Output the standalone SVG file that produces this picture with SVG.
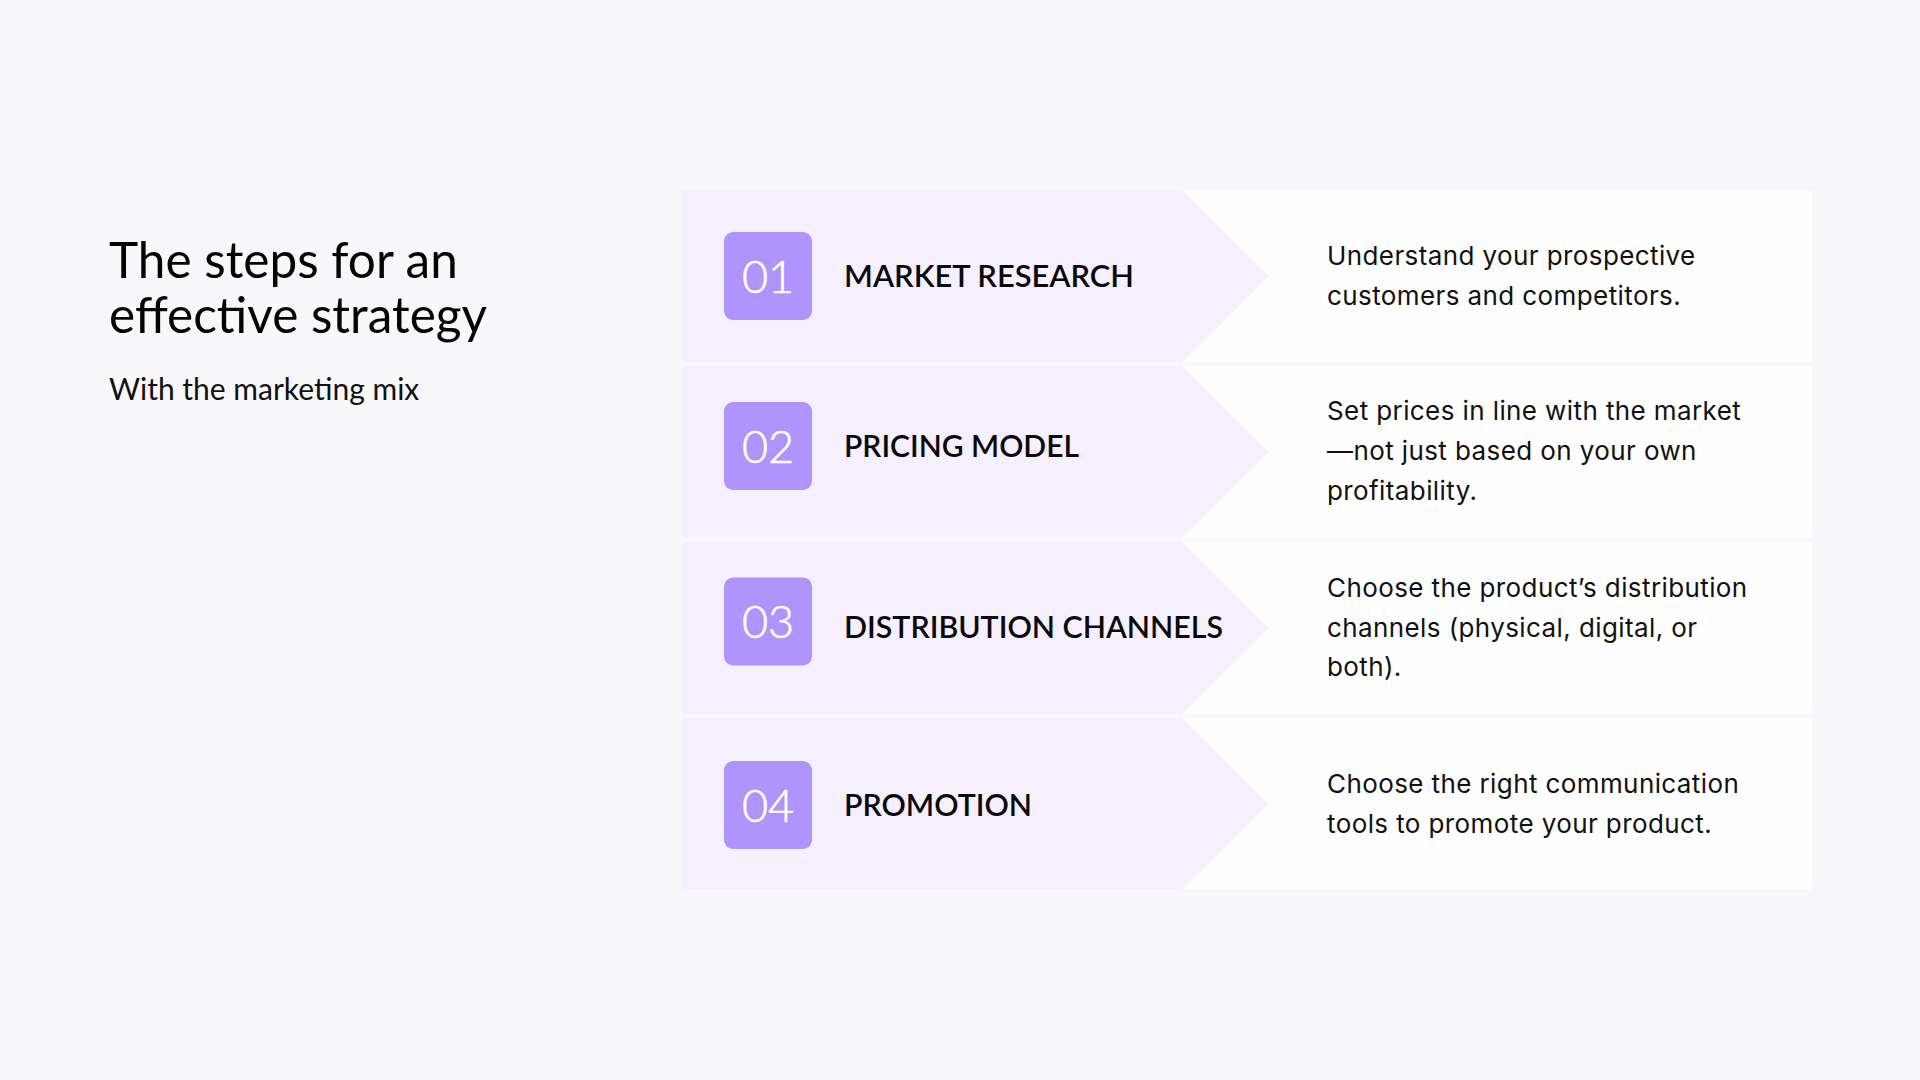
<svg xmlns="http://www.w3.org/2000/svg" width="1920" height="1080" viewBox="0 0 1920 1080">
<style>
.bg{fill:#f8f8fa}
.card{fill:#fefefe}
.chev{fill:#f5effe}
.box{fill:#b094fd}
.num{font-family:Lato,"Noto Sans",sans-serif;font-weight:300;font-size:45px;fill:#ffffff;text-anchor:middle}
.lbl{font-family:Lato,"Noto Sans",sans-serif;font-weight:600;font-size:30px;fill:#0a0a0a}
.desc{font-family:Inter,"Noto Sans",sans-serif;font-size:26px;letter-spacing:0.4px;fill:#111111}
.title{font-family:Lato,"Noto Sans",sans-serif;font-size:49.5px;fill:#050505}
.sub{font-family:Lato,"Noto Sans",sans-serif;font-size:30px;fill:#111111}
</style>
<rect class="bg" x="0" y="0" width="1920" height="1080"/>
<g id="heading">
<text class="title" x="109" y="278">The steps for an</text>
<text class="title" x="109" y="333">effective strategy</text>
<text class="sub" x="109" y="400">With the marketing mix</text>
</g>
<g id="connectors"></g>
<g id="step1">
<rect class="card" x="682" y="190" width="1130" height="172.5"/>
<polygon class="chev" points="682,190 1182,190 1269,276.2 1182,362.5 682,362.5"/>
<rect class="box" x="724" y="232" width="88" height="88" rx="9"/>
<text class="num" x="768" y="293" stroke="#ffffff" stroke-width="0.6">01</text>
<text class="lbl" x="844" y="287" textLength="290" lengthAdjust="spacingAndGlyphs">MARKET RESEARCH</text>
<text class="desc" x="1327" y="265">Understand your prospective</text>
<text class="desc" x="1327" y="305">customers and competitors.</text>
</g>
<g id="step2">
<rect class="card" x="682" y="366" width="1130" height="171.5"/>
<polygon class="chev" points="682,366 1182,366 1269,452 1182,537.5 682,537.5"/>
<rect class="box" x="724" y="402" width="88" height="88" rx="9"/>
<text class="num" x="768" y="463" stroke="#ffffff" stroke-width="0.6">02</text>
<text class="lbl" x="844" y="457" textLength="235" lengthAdjust="spacingAndGlyphs">PRICING MODEL</text>
<text class="desc" x="1327" y="420">Set prices in line with the market</text>
<text class="desc" x="1327" y="460">—not just based on your own</text>
<text class="desc" x="1327" y="500">profitability.</text>
</g>
<g id="step3">
<rect class="card" x="682" y="541.5" width="1130" height="172.5"/>
<polygon class="chev" points="682,541.5 1182,541.5 1269,628 1182,714 682,714"/>
<rect class="box" x="724" y="577.5" width="88" height="88" rx="9"/>
<text class="num" x="768" y="637.5" stroke="#ffffff" stroke-width="0.6">03</text>
<text class="lbl" x="844" y="638" textLength="379" lengthAdjust="spacingAndGlyphs">DISTRIBUTION CHANNELS</text>
<text class="desc" x="1327" y="597">Choose the product’s distribution</text>
<text class="desc" x="1327" y="637">channels (physical, digital, or</text>
<text class="desc" x="1327" y="676">both).</text>
</g>
<g id="step4">
<rect class="card" x="682" y="717.5" width="1130" height="172"/>
<polygon class="chev" points="682,717.5 1182,717.5 1269,803.5 1182,889.5 682,889.5"/>
<rect class="box" x="724" y="761" width="88" height="88" rx="9"/>
<text class="num" x="768" y="822" stroke="#ffffff" stroke-width="0.6">04</text>
<text class="lbl" x="844" y="816" textLength="188" lengthAdjust="spacingAndGlyphs">PROMOTION</text>
<text class="desc" x="1327" y="793">Choose the right communication</text>
<text class="desc" x="1327" y="833">tools to promote your product.</text>
</g>
</svg>
